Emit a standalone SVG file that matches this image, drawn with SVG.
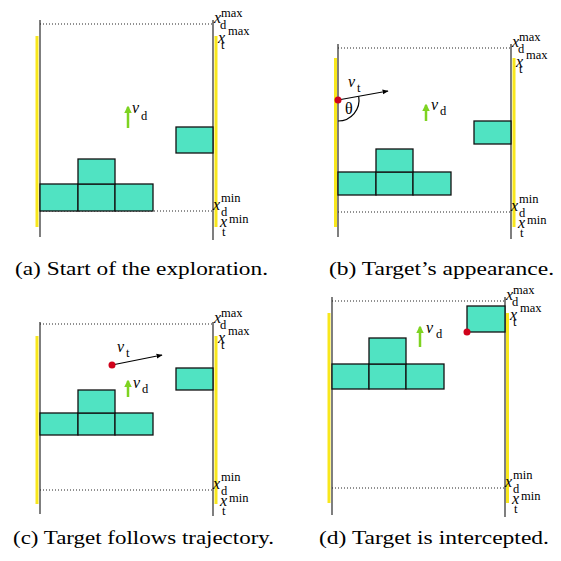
<svg xmlns="http://www.w3.org/2000/svg" width="561" height="561" viewBox="0 0 561 561" font-family="'Liberation Serif', 'Times New Roman', Times, serif">
<defs>
<style>
.g{stroke:#3a3a3a;stroke-width:1.3;fill:none}
.y{stroke:#F8E71C;stroke-width:3;fill:none}
.dot{stroke:#222;stroke-width:1;stroke-dasharray:1 2;fill:none}
.box{fill:#50E3C2;stroke:#111;stroke-width:1.3}
.red{fill:#D0021B}
.grn{stroke:#7ED321;stroke-width:2.5;fill:none}
.blk{stroke:#000;stroke-width:1.2;fill:none}
text{font-family:'Liberation Serif','Times New Roman',Times,serif;fill:#000}
.mi{font-style:italic;font-size:16px}
.sb{font-size:12.5px}
.th{font-size:16px}
.cap{font-size:19.5px}
</style>
<marker id="ga" viewBox="0 0 10 10" refX="8" refY="5" markerWidth="3" markerHeight="3" orient="auto"><path d="M0,0 L10,5 L0,10 z" fill="#7ED321"/></marker>
<marker id="ba" viewBox="0 0 10 10" refX="9" refY="5" markerWidth="6" markerHeight="6" markerUnits="userSpaceOnUse" orient="auto"><path d="M0,1 L10,5 L0,9 z" fill="#000"/></marker>
</defs>

<!-- Panel (a) -->
<g id="panel-a">
<line class="g" x1="40" y1="20" x2="40" y2="237"/>
<line class="g" x1="213" y1="20" x2="213" y2="240"/>
<line class="y" x1="37" y1="36" x2="37" y2="227"/>
<line class="y" x1="216" y1="36" x2="216" y2="227"/>
<line class="dot" x1="40" y1="24" x2="213" y2="24"/>
<line class="dot" x1="40" y1="211" x2="213" y2="211"/>
<g id="a-boxes">
<rect class="box" x="40" y="184" width="38" height="27"/>
<rect class="box" x="78" y="184" width="37" height="27"/>
<rect class="box" x="115" y="184" width="38" height="27"/>
<rect class="box" x="78" y="159" width="37" height="25"/>
</g>
<rect id="a-target" class="box" x="176" y="127" width="37" height="26"/>
<text class="mi" x="132" y="113">v</text><text class="sb" x="141" y="120">d</text>
<g id="a-labels">
<text class="mi" x="214" y="23">x</text><text class="sb" x="221" y="17">max</text><text class="sb" x="220" y="29">d</text>
<text class="mi" x="218" y="43">x</text><text class="sb" x="228" y="35">max</text><text class="sb" x="221" y="49">t</text>
<text class="mi" x="213" y="210">x</text><text class="sb" x="221" y="202">min</text><text class="sb" x="221" y="216">d</text>
<text class="mi" x="220" y="227">x</text><text class="sb" x="229" y="223">min</text><text class="sb" x="222" y="236">t</text>
</g>
<text class="cap" x="15" y="275" textLength="253" lengthAdjust="spacingAndGlyphs">(a) Start of the exploration.</text>
</g>

<!-- Panel (b) -->
<g id="panel-b">
<line class="g" x1="338" y1="44" x2="338" y2="237"/>
<line class="g" x1="511" y1="44" x2="511" y2="239"/>
<line class="y" x1="335.5" y1="58" x2="335.5" y2="227"/>
<line class="y" x1="514" y1="58" x2="514" y2="227"/>
<line class="dot" x1="338" y1="48" x2="511" y2="48"/>
<line class="dot" x1="338" y1="212" x2="511" y2="212"/>
<g id="b-boxes">
<rect class="box" x="338" y="172" width="38" height="23"/>
<rect class="box" x="376" y="172" width="37" height="23"/>
<rect class="box" x="413" y="172" width="38" height="23"/>
<rect class="box" x="376" y="149" width="37" height="23"/>
</g>
<rect id="b-target" class="box" x="474" y="121" width="37" height="23"/>
<path class="blk" d="M338,121 A21,21 0 0 0 358.7,96.4"/>
<text class="th" x="345" y="114">θ</text>
<text class="mi" x="348" y="87">v</text><text class="sb" x="357" y="92">t</text>
<text class="mi" x="431" y="110">v</text><text class="sb" x="440" y="115">d</text>
<g id="b-labels">
<text class="mi" x="512" y="47">x</text><text class="sb" x="519" y="41">max</text><text class="sb" x="518" y="53">d</text>
<text class="mi" x="516" y="67">x</text><text class="sb" x="526" y="59">max</text><text class="sb" x="519" y="73">t</text>
<text class="mi" x="511" y="211">x</text><text class="sb" x="519" y="203">min</text><text class="sb" x="519" y="217">d</text>
<text class="mi" x="518" y="228">x</text><text class="sb" x="527" y="224">min</text><text class="sb" x="520" y="237">t</text>
</g>
<text class="cap" x="329" y="275" textLength="225" lengthAdjust="spacingAndGlyphs">(b) Target’s appearance.</text>
</g>

<!-- Panel (c) -->
<g id="panel-c">
<line class="g" x1="40" y1="322" x2="40" y2="514"/>
<line class="g" x1="213" y1="322" x2="213" y2="516"/>
<line class="y" x1="37" y1="336" x2="37" y2="504"/>
<line class="y" x1="216" y1="336" x2="216" y2="504"/>
<line class="dot" x1="40" y1="324" x2="213" y2="324"/>
<line class="dot" x1="40" y1="490" x2="213" y2="490"/>
<g id="c-boxes">
<rect class="box" x="40" y="413" width="38" height="22"/>
<rect class="box" x="78" y="413" width="37" height="22"/>
<rect class="box" x="115" y="413" width="38" height="22"/>
<rect class="box" x="78" y="390" width="37" height="23"/>
</g>
<rect id="c-target" class="box" x="176" y="368" width="37" height="22"/>
<text class="mi" x="117" y="352">v</text><text class="sb" x="126" y="357">t</text>
<text class="mi" x="133" y="388">v</text><text class="sb" x="142" y="393">d</text>
<g id="c-labels">
<text class="mi" x="214" y="323">x</text><text class="sb" x="221" y="317">max</text><text class="sb" x="220" y="329">d</text>
<text class="mi" x="218" y="343">x</text><text class="sb" x="228" y="335">max</text><text class="sb" x="221" y="349">t</text>
<text class="mi" x="213" y="489">x</text><text class="sb" x="221" y="481">min</text><text class="sb" x="221" y="495">d</text>
<text class="mi" x="220" y="506">x</text><text class="sb" x="229" y="502">min</text><text class="sb" x="222" y="515">t</text>
</g>
<text class="cap" x="13" y="544" textLength="261" lengthAdjust="spacingAndGlyphs">(c) Target follows trajectory.</text>
</g>

<!-- Panel (d) -->
<g id="panel-d">
<line class="g" x1="332" y1="297" x2="332" y2="515"/>
<line class="g" x1="505" y1="297" x2="505" y2="517"/>
<line class="y" x1="329" y1="313" x2="329" y2="503"/>
<line class="y" x1="507.5" y1="313" x2="507.5" y2="503"/>
<line class="dot" x1="332" y1="301" x2="505" y2="301"/>
<line class="dot" x1="332" y1="488" x2="505" y2="488"/>
<g id="d-boxes">
<rect class="box" x="332" y="364" width="37" height="25"/>
<rect class="box" x="369" y="364" width="37" height="25"/>
<rect class="box" x="406" y="364" width="38" height="25"/>
<rect class="box" x="369" y="338" width="37" height="26"/>
</g>
<rect id="d-target" class="box" x="467" y="306" width="38" height="26"/>
<text class="mi" x="426" y="333">v</text><text class="sb" x="436" y="338">d</text>
<g id="d-labels">
<text class="mi" x="506" y="300">x</text><text class="sb" x="513" y="294">max</text><text class="sb" x="512" y="306">d</text>
<text class="mi" x="510" y="320">x</text><text class="sb" x="520" y="312">max</text><text class="sb" x="513" y="326">t</text>
<text class="mi" x="505" y="487">x</text><text class="sb" x="513" y="479">min</text><text class="sb" x="513" y="493">d</text>
<text class="mi" x="512" y="504">x</text><text class="sb" x="521" y="500">min</text><text class="sb" x="514" y="513">t</text>
</g>
<text class="cap" x="319" y="544" textLength="230" lengthAdjust="spacingAndGlyphs">(d) Target is intercepted.</text>
</g>

<!-- Connectors (velocity arrows) -->
<g id="connectors">
<line class="grn" x1="128" y1="128" x2="128" y2="107" marker-end="url(#ga)"/>
<line class="grn" x1="426" y1="121" x2="426" y2="105" marker-end="url(#ga)"/>
<line class="grn" x1="128" y1="397" x2="128" y2="381" marker-end="url(#ga)"/>
<line class="grn" x1="420" y1="347" x2="420" y2="327" marker-end="url(#ga)"/>
<line class="blk" x1="338" y1="100" x2="388" y2="91" marker-end="url(#ba)"/>
<line class="blk" x1="112" y1="365" x2="162" y2="355" marker-end="url(#ba)"/>
</g>
<g id="points">
<circle class="red" cx="338" cy="100" r="3.5"/>
<circle class="red" cx="112" cy="365" r="3.5"/>
<circle class="red" cx="467" cy="332" r="3.5"/>
</g>
</svg>
